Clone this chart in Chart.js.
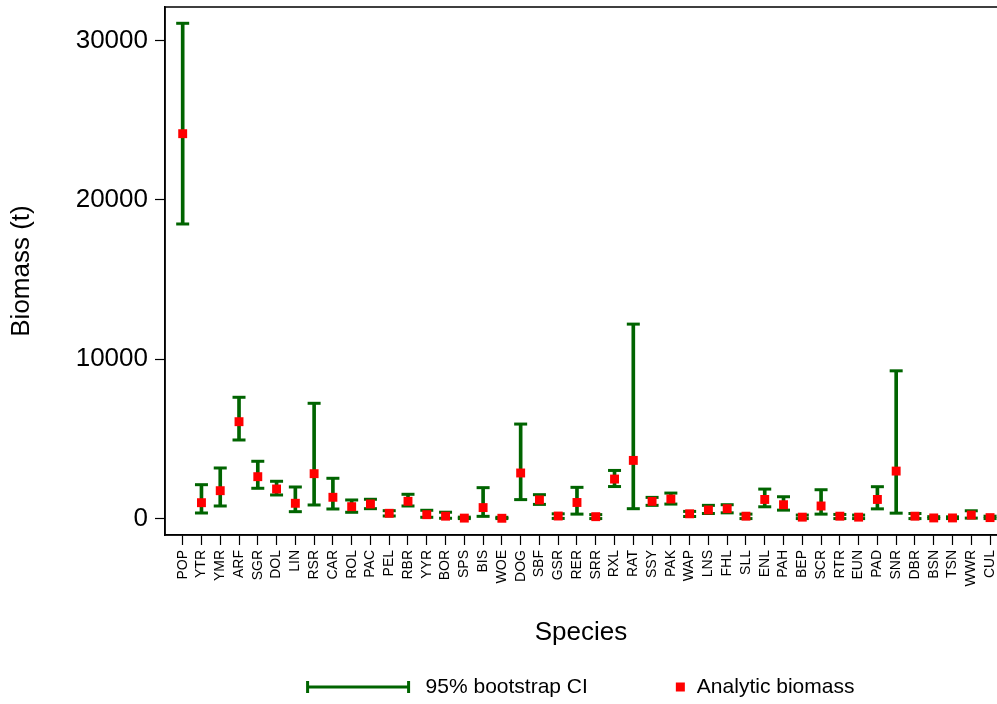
<!DOCTYPE html>
<html>
<head>
<meta charset="utf-8">
<script src="https://cdn.jsdelivr.net/npm/chart.js@4.4.1/dist/chart.umd.min.js"></script>
<style>
  html, body { margin: 0; padding: 0; background: #fff; }
  #wrap { width: 997px; height: 704px; }
</style>
</head>
<body>
<div id="wrap"><canvas id="chart"></canvas></div>
<script>
// --- DATA ---
const species = ['POP','YTR','YMR','ARF','SGR','DOL','LIN','RSR','CAR','ROL','PAC','PEL','RBR','YYR','BOR',
  'SPS','BIS','WOE','DOG','SBF','GSR','RER','SRR','RXL','RAT','SSY','PAK','WAP','LNS','FHL',
  'SLL','ENL','PAH','BEP','SCR','RTR','EUN','PAD','SNR','DBR','BSN','TSN','WWR','CUL'];
const biomass = [24147, 997, 1750, 6079, 2629, 1857, 960, 2817, 1336, 747, 916, 332, 1085, 245, 150,
  30, 690, 20, 2860, 1170, 160, 1010, 120, 2480, 3650, 1080, 1230, 300, 540, 620,
  150, 1200, 870, 90, 790, 150, 90, 1200, 2980, 150, 40, 40, 220, 60];
const ciLow = [18482, 351, 790, 4931, 1901, 1481, 433, 853, 602, 395, 621, 163, 790, 82, 20,
  0, 140, 0, 1190, 890, 10, 280, 0, 2010, 620, 830, 910, 130, 320, 360,
  0, 740, 530, 0, 280, 0, 0, 610, 340, 0, 0, 0, 30, 0];
const ciHigh = [31073, 2127, 3174, 7610, 3595, 2340, 1982, 7233, 2528, 1167, 1211, 496, 1524, 521, 400,
  90, 1940, 80, 5930, 1500, 300, 1960, 250, 3020, 12200, 1330, 1600, 450, 830, 870,
  280, 1850, 1370, 220, 1810, 260, 220, 2000, 9270, 320, 120, 110, 490, 150];
const yTicks = [0, 10000, 20000, 30000];

const GREEN = '#006400';
const RED = '#ff0000';
const FONT = '"Liberation Sans", Arial, sans-serif';

// --- PLUGINS ---
// frame round the plot region (right side runs off the canvas like the original)
const frame = {
    id: 'frame',
    afterDatasetsDraw(chart) {
        const { ctx, chartArea: a } = chart;
        ctx.save();
        ctx.strokeStyle = '#000';
        ctx.lineWidth = 1.5;
        ctx.strokeRect(a.left, a.top, a.right - a.left + 3, a.bottom - a.top);
        ctx.restore();
    }
};

// Stata style legend under the x title
const stataLegend = {
    id: 'stataLegend',
    afterDraw(chart) {
        const { ctx, chartArea: a } = chart;
        const y = chart.height - 17;
        ctx.save();
        ctx.font = '21px ' + FONT;
        ctx.textBaseline = 'middle';
        const t1 = '95% bootstrap CI', t2 = 'Analytic biomass';
        const w1 = ctx.measureText(t1).width, w2 = ctx.measureText(t2).width;
        const lineW = 101, sq = 9;
        const total = lineW + 17 + w1 + 88 + sq + 12 + w2;
        let x = (a.left + a.right) / 2 - total / 2;
        ctx.strokeStyle = GREEN;
        ctx.lineWidth = 3;
        ctx.beginPath();
        ctx.moveTo(x, y); ctx.lineTo(x + lineW, y);
        ctx.moveTo(x, y - 6); ctx.lineTo(x, y + 6);
        ctx.moveTo(x + lineW, y - 6); ctx.lineTo(x + lineW, y + 6);
        ctx.stroke();
        x += lineW + 17;
        ctx.fillStyle = '#000';
        ctx.fillText(t1, x, y);
        x += w1 + 88;
        ctx.fillStyle = RED;
        ctx.fillRect(x, y - sq / 2, sq, sq);
        x += sq + 12;
        ctx.fillStyle = '#000';
        ctx.fillText(t2, x, y);
        ctx.restore();
    }
};

const idx = species.map((_, i) => i + 1);

new Chart(document.getElementById('chart'), {
    type: 'scatter',
    data: {
        datasets: [
            {
                label: 'Analytic biomass',
                data: idx.map((x, i) => ({ x, y: biomass[i] })),
                pointStyle: 'rect',
                pointRadius: 6.3,
                pointBorderWidth: 0,
                backgroundColor: RED,
                borderColor: RED
            },
            {
                label: 'cap low',
                data: idx.map((x, i) => ({ x, y: ciLow[i] })),
                pointStyle: 'line',
                pointRadius: 6.5,
                borderWidth: 3,
                borderColor: GREEN
            },
            {
                label: 'cap high',
                data: idx.map((x, i) => ({ x, y: ciHigh[i] })),
                pointStyle: 'line',
                pointRadius: 6.5,
                borderWidth: 3,
                borderColor: GREEN
            },
            {
                type: 'bar',
                label: '95% bootstrap CI',
                data: idx.map((x, i) => ({ x, y: [ciLow[i], ciHigh[i]] })),
                backgroundColor: GREEN,
                borderWidth: 0,
                barThickness: 3
            }
        ]
    },
    options: {
        responsive: true,
        maintainAspectRatio: false,
        animation: false,
        layout: { autoPadding: false, padding: { top: 7, right: 0, bottom: 50, left: 0 } },
        plugins: {
            legend: { display: false },
            tooltip: { enabled: false }
        },
        scales: {
            x: {
                type: 'linear',
                min: 0.058,
                max: 44.37,
                offset: false,
                afterBuildTicks: (s) => { s.ticks = idx.map(v => ({ value: v })); },
                afterFit: (s) => {
                    s.height = 119;
                    s.paddingLeft = 0; s.paddingRight = 0;
                },
                grid: { display: true, offset: false, drawOnChartArea: false, tickLength: 10, color: '#000', tickWidth: 1.2 },
                border: { display: true, color: '#000', width: 1.5 },
                ticks: {
                    autoSkip: false,
                    minRotation: 90,
                    maxRotation: 90,
                    padding: 5,
                    color: '#000',
                    font: { family: FONT, size: 14 },
                    callback: (v) => species[v - 1] || ''
                },
                title: {
                    display: true,
                    text: 'Species',
                    color: '#000',
                    font: { family: FONT, size: 26 },
                    padding: { top: 0, bottom: 6 }
                }
            },
            y: {
                type: 'linear',
                min: -1030,
                max: 32095,
                afterBuildTicks: (s) => { s.ticks = yTicks.map(v => ({ value: v })); },
                afterFit: (s) => {
                    s.width = 165;
                    s.paddingTop = 0; s.paddingBottom = 0;
                },
                grid: { display: true, drawOnChartArea: false, tickLength: 10, color: '#000', tickWidth: 1.2 },
                border: { display: true, color: '#000', width: 1.5 },
                ticks: {
                    padding: 7,
                    color: '#000',
                    font: { family: FONT, size: 26 },
                    callback: (v) => String(v)
                },
                title: {
                    display: true,
                    text: 'Biomass (t)',
                    color: '#000',
                    font: { family: FONT, size: 26 },
                    padding: { top: 6, bottom: 0 }
                }
            }
        }
    },
    plugins: [frame, stataLegend]
});
</script>
</body>
</html>
